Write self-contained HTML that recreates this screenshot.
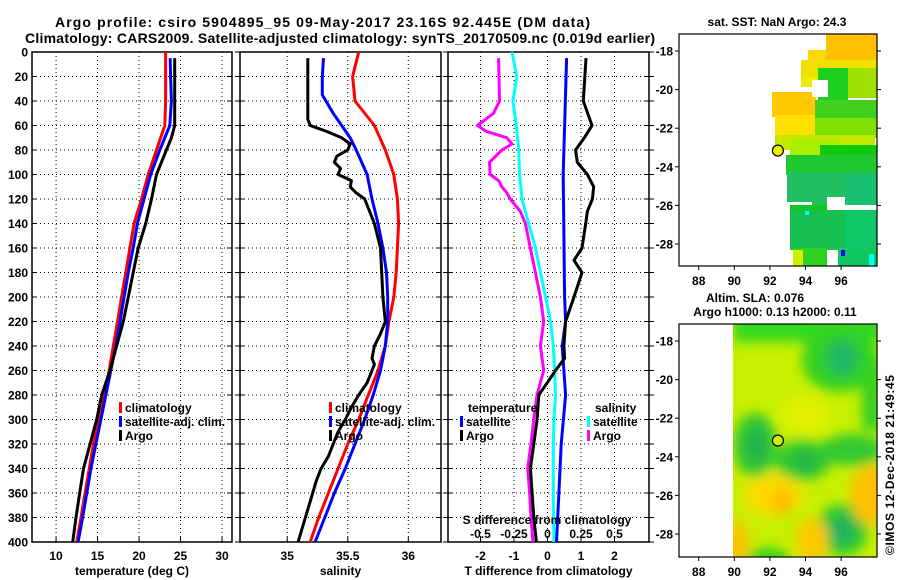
<!DOCTYPE html>
<html><head><meta charset="utf-8"><style>
body{margin:0;background:#fff;}
svg{display:block;font-family:"Liberation Sans",sans-serif;}
.t{font-size:12px;font-weight:bold;fill:#000;}
</style></head><body>
<svg id="c" width="900" height="580" viewBox="0 0 900 580" xmlns="http://www.w3.org/2000/svg">
<defs>
<filter id="bl" x="-20%" y="-20%" width="140%" height="140%"><feGaussianBlur stdDeviation="6"/></filter>
<clipPath id="m2clip"><rect x="733" y="324" width="144" height="233"/></clipPath>
</defs>
<text x="55" y="27" font-size="14" font-weight="bold" textLength="535">Argo profile: csiro 5904895_95 09-May-2017 23.16S 92.445E (DM data)</text>
<text x="25" y="43" font-size="14" font-weight="bold" textLength="630">Climatology: CARS2009. Satellite-adjusted climatology: synTS_20170509.nc (0.019d earlier)</text>
<g id="plots"></g>
<g id="maps"></g>
<text class="t" transform="translate(894,555) rotate(-90)" font-weight="normal" font-size="12" textLength="180">©IMOS 12-Dec-2018 21:49:45</text>
</svg>
<script>
// ---- data (depth in m) ----
const depthsClim=[0,20,40,60,80,100,120,140,160,180,200,220,240,260,280,300,320,340,360,380,400];
const tempClim=[23.2,23.2,23.2,23.1,22.1,21.1,20.3,19.4,18.9,18.4,17.9,17.4,16.9,16.4,15.8,15.1,14.5,14.0,13.5,13.0,12.5];
const depthsSat=[5,20,40,60,80,100,120,140,160,180,200,220,240,260,280,300,320,340,360,380,400];
const tempSat=[23.75,23.8,23.9,23.7,22.5,21.4,20.6,19.8,19.3,18.7,18.2,17.7,17.2,16.6,16.0,15.4,14.8,14.2,13.7,13.2,12.65];
const depthsArgoT=[5,60,70,80,100,120,140,160,180,200,220,240,260,280,300,320,340,360,380,400];
const tempArgo=[24.3,24.3,23.9,23.3,22.1,21.5,20.8,19.9,19.3,18.7,18.1,17.3,16.5,15.5,14.9,14.1,13.3,12.85,12.4,12.0];
const salClim=[35.59,35.54,35.56,35.72,35.81,35.88,35.91,35.92,35.91,35.90,35.88,35.84,35.81,35.75,35.67,35.59,35.50,35.42,35.34,35.26,35.19];
const depthsSalSat=[5,20,35,50,70,80,100,120,140,160,180,200,220,240,260,280,300,320,340,360,380,400];
const salSat=[35.30,35.29,35.29,35.38,35.52,35.57,35.66,35.70,35.75,35.79,35.82,35.83,35.83,35.81,35.77,35.71,35.64,35.56,35.48,35.39,35.31,35.23];
const depthsSalArgo=[5,55,60,65,70,75,80,85,90,95,100,105,110,115,120,140,160,180,200,220,230,240,250,255,260,270,280,290,300,310,320,330,340,350,360,380,400];
const salArgo=[35.17,35.17,35.19,35.33,35.45,35.52,35.50,35.41,35.39,35.44,35.42,35.53,35.52,35.57,35.64,35.72,35.77,35.78,35.79,35.81,35.77,35.72,35.70,35.72,35.70,35.66,35.59,35.53,35.48,35.42,35.38,35.34,35.28,35.24,35.21,35.15,35.09];
const depthsDTSat=[5,100,200,220,240,280,320,360,400];
const dTSat=[0.57,0.47,0.51,0.54,0.44,0.54,0.41,0.34,0.27];
const depthsDTArgo=[5,40,60,70,80,90,100,110,120,130,140,160,170,180,200,220,240,250,260,270,280,300,320,340,360,380,400];
const dTArgo=[1.15,1.07,1.33,1.1,0.84,0.89,1.19,1.38,1.34,1.19,1.14,1.03,0.79,1.03,0.79,0.54,0.49,0.51,0.24,-0.01,-0.26,-0.31,-0.41,-0.51,-0.46,-0.41,-0.33];
const depthsDSSat=[0,20,40,60,80,100,120,140,160,180,200,220,240,260,280,300,320,360,400];
const dSSat=[-0.265,-0.228,-0.258,-0.233,-0.215,-0.208,-0.19,-0.14,-0.09,-0.053,-0.015,0.023,0.043,0.053,0.06,0.048,0.043,0.043,0.048];
const depthsDSArgo=[5,40,50,60,65,70,75,80,90,100,105,110,115,120,130,140,160,180,200,220,240,260,280,300,320,340,360,380,400];
const dSArgo=[-0.365,-0.358,-0.403,-0.523,-0.453,-0.303,-0.265,-0.34,-0.433,-0.428,-0.365,-0.34,-0.303,-0.278,-0.203,-0.165,-0.128,-0.09,-0.053,-0.028,-0.053,-0.028,-0.078,-0.103,-0.123,-0.148,-0.133,-0.123,-0.108];
const depthTicks=[0,20,40,60,80,100,120,140,160,180,200,220,240,260,280,300,320,340,360,380,400];
const tTicks=[10,15,20,25,30];
const sTicks=[35,35.5,36];
const dtTicks=[-2,-1,0,1,2];
const dsTicks=[-0.5,-0.25,0,0.25,0.5];
const dsTickLabels=["-0.5","-0.25","0","0.25","0.5"];

const NS="http://www.w3.org/2000/svg";
function mk(tag,attrs,parent){const e=document.createElementNS(NS,tag);for(const k in attrs)e.setAttribute(k,attrs[k]);parent.appendChild(e);return e;}
const G=document.getElementById('plots');
const Y0=52,Y1=542;
const yS=d=>Y0+(d/400)*(Y1-Y0);
function lin(d0,d1,r0,r1){return v=>r0+(v-d0)/(d1-d0)*(r1-r0);}
const panels=[
 {x0:32,x1:232,sc:lin(7.1,31.2,32,232),ticks:tTicks,lab:tTicks.map(String),title:"temperature (deg C)",name:"temperature"},
 {x0:240,x1:441,sc:lin(34.61,36.27,240,441),ticks:sTicks,lab:["35","35.5","36"],title:"salinity",name:"salinity"},
 {x0:448,x1:649,sc:lin(-2.97,3.03,448,649),ticks:dtTicks,lab:dtTicks.map(String),title:"T difference from climatology",name:"difference"}
];
panels.forEach((p,pi)=>{
 const g=mk('g',{},G);
 
 
 depthTicks.forEach(d=>{const y=yS(d);
  if(d>0&&d<400){const l=mk('line',{x1:p.x0,x2:p.x1,y1:y,y2:y,stroke:'#000','stroke-width':1,'stroke-dasharray':'1,3'},g);
  
  }
  mk('line',{x1:p.x0,x2:p.x0+5,y1:y,y2:y,stroke:'#000'},g);
  mk('line',{x1:p.x1-5,x2:p.x1,y1:y,y2:y,stroke:'#000'},g);
 });
 p.ticks.forEach((v,i)=>{const x=p.sc(v);
  mk('line',{x1:x,x2:x,y1:Y0,y2:Y1,stroke:'#000','stroke-width':1,'stroke-dasharray':'1,3'},g);
  mk('line',{x1:x,x2:x,y1:Y1-5,y2:Y1,stroke:'#000'},g);
  const t=mk('text',{x:x,y:560,'text-anchor':'middle',class:'t'},g);t.textContent=p.lab[i];
  
  
 });
 const r=mk('rect',{x:p.x0,y:Y0,width:p.x1-p.x0,height:Y1-Y0,fill:'none',stroke:'#000','stroke-width':1.5},g);
 
 
 const tt=mk('text',{x:(p.x0+p.x1)/2,y:575,'text-anchor':'middle',class:'t'},g);tt.textContent=p.title;
 
 
});
depthTicks.forEach(d=>{const t=mk('text',{x:28,y:yS(d)+4.5,'text-anchor':'end',class:'t'},G);t.textContent=String(d);
 
 });
panels.slice(1).forEach(p=>{depthTicks.forEach(d=>{mk('line',{x1:p.x0-5,x2:p.x0,y1:yS(d),y2:yS(d),stroke:'#000'},G);});});
depthTicks.forEach(d=>{mk('line',{x1:649,x2:654,y1:yS(d),y2:yS(d),stroke:'#000'},G);});

function line(depths,vals,sc,color,name){
 const pts=vals.map((v,i)=>sc(v).toFixed(1)+','+yS(depths[i]).toFixed(1)).join(' ');
 const l=mk('polyline',{points:pts,fill:'none',stroke:color,'stroke-width':3,'stroke-linejoin':'round'},G);
 
 
}
const P=panels;
line(depthsClim,tempClim,P[0].sc,'#f00','temp-climatology-line');
line(depthsSat,tempSat,P[0].sc,'#00f','temp-satellite-line');
line(depthsArgoT,tempArgo,P[0].sc,'#000','temp-argo-line');
line(depthsClim,salClim,P[1].sc,'#f00','sal-climatology-line');
line(depthsSalSat,salSat,P[1].sc,'#00f','sal-satellite-line');
line(depthsSalArgo,salArgo,P[1].sc,'#000','sal-argo-line');
const sdSc=v=>P[2].sc(v*4);
line(depthsDSSat,dSSat,sdSc,'#0ff','dS-satellite-line');
line(depthsDSArgo,dSArgo,sdSc,'#f0f','dS-argo-line');
line(depthsDTSat,dTSat,P[2].sc,'#00f','dT-satellite-line');
line(depthsDTArgo,dTArgo,P[2].sc,'#000','dT-argo-line');

function leg(x,y,color,label,name){
 mk('rect',{x:x,y:y-10,width:3,height:11,fill:color},G);
 const t=mk('text',{x:x+6,y:y,class:'t'},G);t.textContent=label;
 
 
}
leg(119,412,'#f00','climatology','legend-climatology');
leg(119,426,'#00f','satellite-adj. clim.','legend-satellite-adj');
leg(119,440,'#000','Argo','legend-argo');
leg(329,412,'#f00','climatology','legend-climatology-2');
leg(329,426,'#00f','satellite-adj. clim.','legend-satellite-adj-2');
leg(329,440,'#000','Argo','legend-argo-2');
let th=mk('text',{x:468,y:412,class:'t'},G);th.textContent='temperature';


th=mk('text',{x:595,y:412,class:'t'},G);th.textContent='salinity';


leg(460,426,'#00f','satellite','legend-t-satellite');
leg(460,440,'#000','Argo','legend-t-argo');
leg(587,426,'#0ff','satellite','legend-s-satellite');
leg(587,440,'#f0f','Argo','legend-s-argo');
th=mk('text',{x:547,y:524,'text-anchor':'middle',class:'t'},G);th.textContent='S difference from climatology';


dsTicks.forEach((v,i)=>{const t=mk('text',{x:sdSc(v),y:538,'text-anchor':'middle',class:'t'},G);t.textContent=dsTickLabels[i];
 
 });

// ---- maps ----
const M=document.getElementById('maps');
const lonX=lon=>698.7+(lon-88)*17.8;
const lonTicks=[88,90,92,94,96];
const latTicks=[-18,-20,-22,-24,-26,-28];
function mapFrame(y0,y1,latY,labY,name){
 const g=mk('g',{},M);
 
 
 mk('rect',{x:679,y:y0,width:198,height:y1-y0,fill:'none',stroke:'#000','stroke-width':1.2},g);
 lonTicks.forEach(l=>{const x=lonX(l);mk('line',{x1:x,x2:x,y1:y1,y2:y1+4,stroke:'#000'},g);
  const t=mk('text',{x:x,y:labY,'text-anchor':'middle',class:'t'},g);t.textContent=String(l);
  
  });
 latTicks.forEach(l=>{const y=latY(l);mk('line',{x1:675,x2:679,y1:y,y2:y,stroke:'#000'},g);mk('line',{x1:877,x2:881,y1:y,y2:y,stroke:'#000'},g);
  const t=mk('text',{x:673,y:y+4.5,'text-anchor':'end',class:'t'},g);t.textContent=String(l);
  
  });
 return g;
}
const lat1=l=>51+(-18-l)*19.3, lat2=l=>341+(-18-l)*19.3;
const sst=M.appendChild(document.createElementNS(NS,'g'));


[[826,34,51,30,'#ffc000'],[808,50,18,12,'#ffd800'],[801,60,76,22,'#f0e000'],[801,77,22,10,'#e8f000'],
 [828,68,49,30,'#a0e000'],[818,68,30,40,'#20d020'],[772,92,44,25,'#ffc800'],[815,100,62,20,'#40d020'],
 [775,115,40,22,'#ffe000'],[815,118,62,20,'#80e000'],[775,135,100,15,'#c0e800'],[790,140,50,15,'#a8f000'],
 [820,145,57,20,'#10c810'],[786,155,91,20,'#20c830'],[787,172,90,30,'#20c060'],[845,175,32,30,'#18c070'],
 [812,197,15,13,'#20c060'],[790,205,37,10,'#10c820'],[790,210,87,40,'#18c050'],[845,210,32,40,'#10c868'],
 [793,248,34,18,'#30d020'],[838,248,39,18,'#10c860'],[793,250,10,16,'#d0f000']].forEach(r=>{
 mk('rect',{x:r[0],y:r[1],width:r[2],height:r[3],fill:r[4]},sst);});
[[812,80,16,17],[827,197,18,13],[778,205,12,40],[827,250,11,8]].forEach(r=>mk('rect',{x:r[0],y:r[1],width:r[2],height:r[3],fill:'#fff'},sst));
mk('rect',{x:805,y:211,width:4,height:4,fill:'#0ff'},sst);
mk('rect',{x:841,y:250,width:4,height:6,fill:'#00f'},sst);
mk('rect',{x:869,y:254,width:5,height:12,fill:'#0ff'},sst);
mapFrame(34,266,lat1,285,'sst-map-frame');
let c=mk('circle',{cx:lonX(92.45),cy:lat1(-23.16),r:5.5,fill:'#e8f000',stroke:'#000','stroke-width':1.2},M);


let tt=mk('text',{x:777,y:26,'text-anchor':'middle',class:'t'},M);tt.textContent='sat. SST: NaN Argo: 24.3';



const sla=mk('g',{'clip-path':'url(#m2clip)'},M);


mk('rect',{x:733,y:324,width:144,height:233,fill:'#c8f000'},sla);
const bl=mk('g',{filter:'url(#bl)'},sla);
[['rect',733,310,150,32,'#30d820'],['e',840,360,38,32,'#30d020'],['e',842,358,16,18,'#20b868'],
 ['e',755,445,22,32,'#30c830'],['e',757,445,10,18,'#20b050'],['e',803,460,28,20,'#30c830'],['e',805,462,10,10,'#20b050'],
 ['e',852,450,32,16,'#30c830'],['rect',862,360,20,70,'#30d020'],['e',842,530,26,26,'#30c830'],['e',842,530,12,14,'#20b060'],
 ['e',768,560,22,12,'#30d020'],['e',773,495,28,20,'#ffd800'],['e',782,502,10,12,'#ffb800'],['e',872,495,22,30,'#ffc000'],
 ['e',812,540,16,22,'#ffc800'],['e',738,545,10,25,'#ffc000'],['e',805,415,25,18,'#e0f000']].forEach(s=>{
 if(s[0]==='rect')mk('rect',{x:s[1],y:s[2],width:s[3],height:s[4],fill:s[5]},bl);
 else mk('ellipse',{cx:s[1],cy:s[2],rx:s[3],ry:s[4],fill:s[5]},bl);});
mapFrame(324,557,lat2,576,'sla-map-frame');
c=mk('circle',{cx:lonX(92.45),cy:lat2(-23.16),r:5.5,fill:'#c8f000',stroke:'#000','stroke-width':1.2},M);


tt=mk('text',{x:755,y:302,'text-anchor':'middle',class:'t'},M);tt.textContent='Altim. SLA: 0.076';


tt=mk('text',{x:775,y:316,'text-anchor':'middle',class:'t'},M);tt.textContent='Argo h1000: 0.13 h2000: 0.11';


</script>
</body></html>
